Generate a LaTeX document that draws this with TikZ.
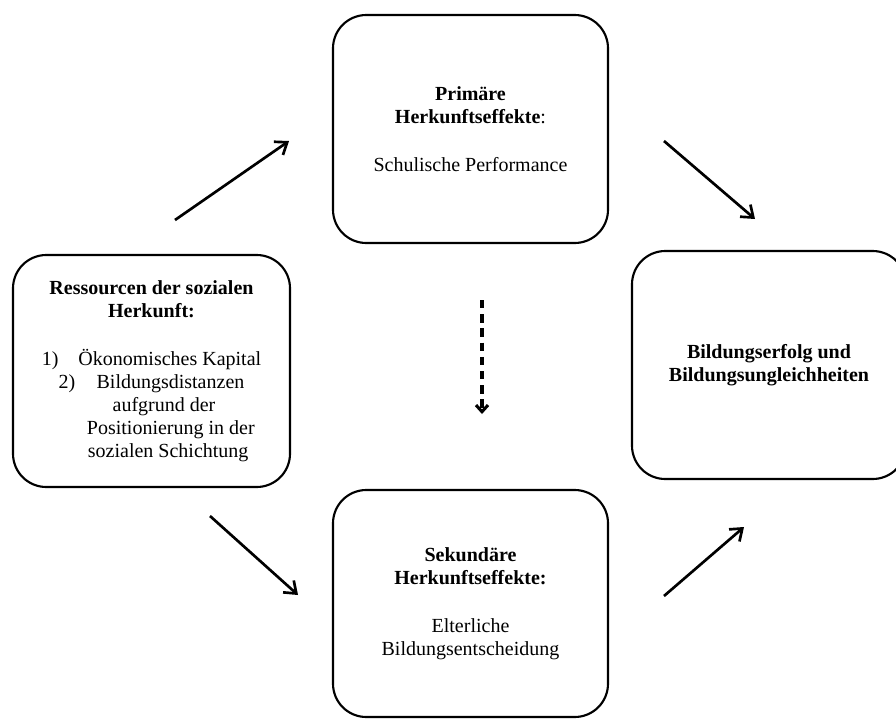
\documentclass[tikz,border=0pt]{standalone}
\usepackage{fontspec}
\setmainfont{Liberation Serif}
\usetikzlibrary{arrows.meta}
\begin{document}
\begin{tikzpicture}[x=0.75pt,y=-0.75pt,
  box/.style={draw, line width=1.6pt, rounded corners=25pt, align=center,
    font=\fontsize{15}{17.25}\selectfont, inner sep=0pt},
  conn/.style={line width=2pt, -{Straight Barb[length=8pt,width=12pt]}},
  dconn/.style={line width=2.3pt, dash pattern=on 6.25pt off 4.4pt, -{Straight Barb[length=5pt,width=9pt]}}
]
\useasboundingbox (0,0) rectangle (896,718);
\clip (0,0) rectangle (896,718);

\node[box, minimum width=206.25pt, minimum height=171pt] (prim) at (470.5,129)
  {\textbf{Primäre}\\\textbf{Herkunftseffekte}:\\[19pt]Schulische Performance};

\node[box, minimum width=207.75pt, minimum height=174pt] (ress) at (151.5,371)
  {\textbf{Ressourcen der sozialen}\\\textbf{Herkunft:}\\[19pt]
   1)\hspace{15pt}Ökonomisches Kapital\\
   2)\hspace{16pt}Bildungsdistanzen\\
   \hspace*{18.75pt}aufgrund der\\
   \hspace*{29pt}Positionierung in der\\
   \hspace*{25pt}sozialen Schichtung};

\node[box, minimum width=205.5pt, minimum height=171pt] (erf) at (769,365)
  {\textbf{Bildungserfolg und}\\\textbf{Bildungsungleichheiten}};

\node[box, minimum width=206.25pt, minimum height=170.25pt] (sek) at (470.5,603.5)
  {\textbf{Sekundäre}\\\textbf{Herkunftseffekte:}\\[19pt]Elterliche\\Bildungsentscheidung};

\coordinate (a1s) at (175,220);
\coordinate (a1e) at (289,141);
\coordinate (a2s) at (664,141);
\coordinate (a2e) at (755,219);
\coordinate (a3s) at (210,516);
\coordinate (a3e) at (298,595);
\coordinate (a4s) at (664,596);
\coordinate (a4e) at (744,527);
\coordinate (ds) at (482,300);
\coordinate (de) at (482,414);

\draw[conn] (a1s) -- (a1e);
\draw[conn] (a2s) -- (a2e);
\draw[conn] (a3s) -- (a3e);
\draw[conn] (a4s) -- (a4e);
\draw[dconn] (ds) -- (de);
\end{tikzpicture}
\end{document}
